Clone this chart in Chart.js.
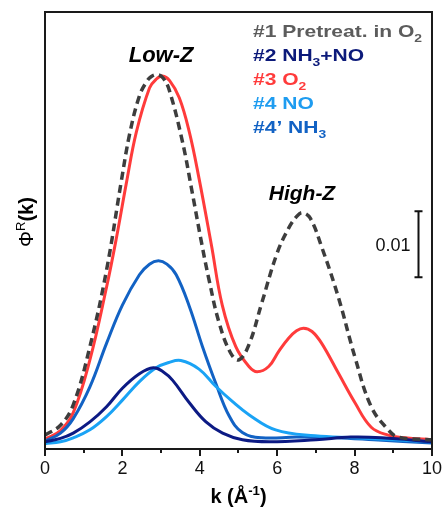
<!DOCTYPE html>
<html><head><meta charset="utf-8">
<script src="https://cdn.jsdelivr.net/npm/chart.js@4.4.0/dist/chart.umd.min.js"></script>
<style>html,body{margin:0;padding:0;background:#fff;}canvas{display:block}</style>
</head><body>
<canvas id="c" width="444" height="508"></canvas>
<script>
// ---- data (k in 1/Å, Φ^R(k) in absolute units; scale bar = 0.01) ----
const xTicks = [0, 2, 4, 6, 8, 10];
const k1 = [0,0.4,0.73,1.16,1.59,1.97,2.19,2.44,2.62,2.74,2.9,3.05,3.21,3.55,3.8,4.05,4.24,4.5,4.8,5.01,5.27,5.6,6.0,6.3,6.5,6.65,6.85,7.15,7.58,8.01,8.43,8.87,9.13,10];
const s1 = [0.0021,0.0036,0.0067,0.0155,0.0271,0.0405,0.0478,0.0535,0.0556,0.0564,0.0567,0.0562,0.0544,0.0466,0.0390,0.0311,0.0256,0.0191,0.0145,0.0135,0.0158,0.0221,0.0297,0.0335,0.0352,0.0358,0.0350,0.0306,0.0230,0.0139,0.0064,0.0029,0.0018,0.0014];
const k2 = [0,0.4,0.73,1.16,1.59,2.0,2.44,2.8,3.05,3.3,3.73,4.16,4.59,5.1,5.8,7.0,7.9,8.7,10];
const s2 = [0.0011,0.0016,0.0024,0.0041,0.0064,0.0092,0.0114,0.0123,0.0117,0.0104,0.0070,0.0041,0.0024,0.0014,0.0011,0.0014,0.0018,0.0017,0.0011];
const k3 = [0,0.4,0.73,1.16,1.59,1.84,2.1,2.36,2.7,2.87,3.03,3.22,3.47,3.73,3.98,4.3,4.58,4.93,5.27,5.48,5.78,6.04,6.3,6.5,6.68,6.9,7.15,7.58,8.01,8.43,8.87,9.3,10];
const s3 = [0.0015,0.0028,0.0055,0.0135,0.0245,0.0318,0.0402,0.0480,0.0547,0.0560,0.0565,0.0558,0.0532,0.0480,0.0410,0.0309,0.0218,0.0155,0.0125,0.0117,0.0125,0.0148,0.0168,0.0179,0.0183,0.0178,0.0160,0.0115,0.0070,0.0033,0.0021,0.0017,0.0014];
const k4 = [0,0.4,0.73,1.16,1.59,2.0,2.44,2.87,3.2,3.51,3.98,4.41,4.84,5.27,5.96,6.98,8.0,9.0,10];
const s4 = [0.0008,0.0011,0.0017,0.0029,0.0049,0.0074,0.0102,0.0123,0.0131,0.0134,0.0121,0.0095,0.0072,0.0052,0.0029,0.0020,0.0017,0.0014,0.0011];
const k4p = [0,0.4,0.73,1.16,1.59,2.0,2.44,2.7,2.93,3.15,3.39,3.73,4.07,4.41,4.76,5.1,5.6,6.5,7.5,8.5,10];
const s4p = [0.0012,0.0024,0.0046,0.0094,0.0160,0.0218,0.0264,0.0280,0.0285,0.0280,0.0264,0.0216,0.0155,0.0100,0.0050,0.0025,0.0017,0.0018,0.0017,0.0014,0.0009];
const scaleBar = 0.01;
const legendLines = [
  [['#1 Pretreat. in O',''],['2','sub']],
  [['#2 NH',''],['3','sub'],['+NO','']],
  [['#3 O',''],['2','sub']],
  [['#4 NO','']],
  [['#4\u2019 NH',''],['3','sub']]
];
// ---- styling ----
const FONT = '"Liberation Sans", Arial, Helvetica, sans-serif';
const C1='#3d3d3d', C2='#0c1a84', C3='#ff3b3b', C4='#1aa3f5', C4P='#1262c4';
const legendColors = ['#5c5c5c', '#0c1a7a', '#ff3b3b', '#1e9cf0', '#1262c4'];

const pts = (k, s) => k.map((v, i) => ({x: v, y: s[i]}));
const ds = (label, k, s, color, extra) => Object.assign({
  label, data: pts(k, s), borderColor: color, borderWidth: 3, pointRadius: 0,
  fill: false, tension: 0.4, borderJoinStyle: 'round', borderCapStyle: 'round'
}, extra || {});

function drawRich(ctx, parts, x, y, size, weight, sx) {
  ctx.save(); ctx.translate(x, y); ctx.scale(sx, 1);
  let cx = 0;
  for (const [t, type] of parts) {
    const fs = type ? size * 0.66 : size;
    const dy = type === 'sub' ? size * 0.28 : type === 'sup' ? -size * 0.42 : 0;
    ctx.font = `${weight} ${fs}px ${FONT}`;
    ctx.fillText(t, cx, dy);
    cx += ctx.measureText(t).width;
  }
  ctx.restore();
}
function richWidth(ctx, parts, size, weight) {
  let w = 0;
  for (const [t, type] of parts) {
    const fs = type ? size * 0.66 : size;
    ctx.font = `${weight} ${fs}px ${FONT}`;
    w += ctx.measureText(t).width;
  }
  return w;
}

const annot = {
  id: 'annot',
  afterDraw(chart) {
    const {ctx, chartArea: a, scales: {x, y}} = chart;
    ctx.save();
    // frame
    ctx.strokeStyle = '#1a1a1a'; ctx.lineWidth = 2;
    ctx.strokeRect(a.left, a.top, a.right - a.left, a.bottom - a.top);
    // minor ticks
    ctx.lineWidth = 2;
    for (let v = 1; v < 10; v += 2) {
      const px = Math.round(x.getPixelForValue(v));
      ctx.beginPath(); ctx.moveTo(px, a.bottom); ctx.lineTo(px, a.bottom + 4); ctx.stroke();
    }
    // legend
    ctx.textBaseline = 'alphabetic'; ctx.textAlign = 'left';
    const lsize = 17;
    const w0 = richWidth(ctx, legendLines[0], lsize, 'bold');
    const sx = 169 / w0;
    const base = [37, 61, 85, 109, 133];
    legendLines.forEach((parts, i) => {
      ctx.fillStyle = legendColors[i];
      drawRich(ctx, parts, 253, base[i], lsize, 'bold', sx);
    });
    // Low-Z / High-Z
    ctx.fillStyle = '#000';
    ctx.textAlign = 'center';
    ctx.font = `italic bold 22px ${FONT}`;
    ctx.fillText('Low-Z', x.getPixelForValue(3.0), 62);
    ctx.font = `italic bold 21px ${FONT}`;
    ctx.fillText('High-Z', x.getPixelForValue(6.64), 200);
    // scale bar
    const bx = Math.round(x.getPixelForValue(9.64)) + 0.5;
    const yb = y.getPixelForValue(0.026), yt = y.getPixelForValue(0.026 + scaleBar);
    ctx.strokeStyle = '#111'; ctx.lineWidth = 2;
    ctx.beginPath();
    ctx.moveTo(bx, yb); ctx.lineTo(bx, yt);
    ctx.moveTo(bx - 4, yb); ctx.lineTo(bx + 4, yb);
    ctx.moveTo(bx - 4, yt); ctx.lineTo(bx + 4, yt);
    ctx.stroke();
    ctx.textAlign = 'right'; ctx.font = `18px ${FONT}`; ctx.fillStyle = '#111';
    ctx.fillText('0.01', bx - 8, (yb + yt) / 2 + 7);
    // x title: k (Å^-1)
    ctx.textAlign = 'left'; ctx.fillStyle = '#000';
    const xt = [['k (\u00C5', ''], ['-1', 'sup'], [')', '']];
    const xw = richWidth(ctx, xt, 20, 'bold');
    drawRich(ctx, xt, (a.left + a.right) / 2 - xw / 2, 503, 20, 'bold', 1);
    // y title: Φ^R(k)
    ctx.save();
    ctx.translate(33, 222); ctx.rotate(-Math.PI / 2);
    const yp = [['\u03A6', 'n'], ['R', 'sup'], ['(k)', 'b']];
    const sizes = {n: 20, sup: 13, b: 20};
    let tw = 0;
    for (const [t, k] of yp) { ctx.font = `${k === 'b' ? 'bold ' : ''}${sizes[k]}px ${FONT}`; tw += ctx.measureText(t).width; }
    let cx = -tw / 2;
    for (const [t, k] of yp) {
      ctx.font = `${k === 'b' ? 'bold ' : ''}${sizes[k]}px ${FONT}`;
      ctx.fillText(t, cx, k === 'sup' ? -8 : 0);
      cx += ctx.measureText(t).width;
    }
    ctx.restore();
    ctx.restore();
  }
};

new Chart(document.getElementById('c'), {
  type: 'line',
  data: {
    datasets: [
      ds('#1 Pretreat. in O2', k1, s1, C1, {borderDash: [8, 5], borderWidth: 3.5, borderCapStyle: 'butt'}),
      ds('#2 NH3+NO', k2, s2, C2),
      ds('#4 NO', k4, s4, C4),
      ds("#4' NH3", k4p, s4p, C4P),
      ds('#3 O2', k3, s3, C3)
    ]
  },
  options: {
    responsive: false, animation: false, events: [], devicePixelRatio: 1,
    layout: {padding: {left: 45, right: 10, top: 12, bottom: 0}},
    plugins: {legend: {display: false}, tooltip: {enabled: false}},
    scales: {
      x: {
        type: 'linear', min: 0, max: 10,
        afterBuildTicks: s => { s.ticks = xTicks.map(v => ({value: v})); },
        afterFit: s => { s.height = 59; },
        grid: {display: true, drawOnChartArea: false, drawTicks: true, tickLength: 7, color: '#1a1a1a', lineWidth: 2},
        border: {display: true, color: '#1a1a1a', width: 2},
        ticks: {color: '#111', font: {family: FONT, size: 18}, padding: 2, maxRotation: 0}
      },
      y: {type: 'linear', min: 0, max: 0.0662, display: false}
    }
  },
  plugins: [annot]
});
</script>
</body></html>
